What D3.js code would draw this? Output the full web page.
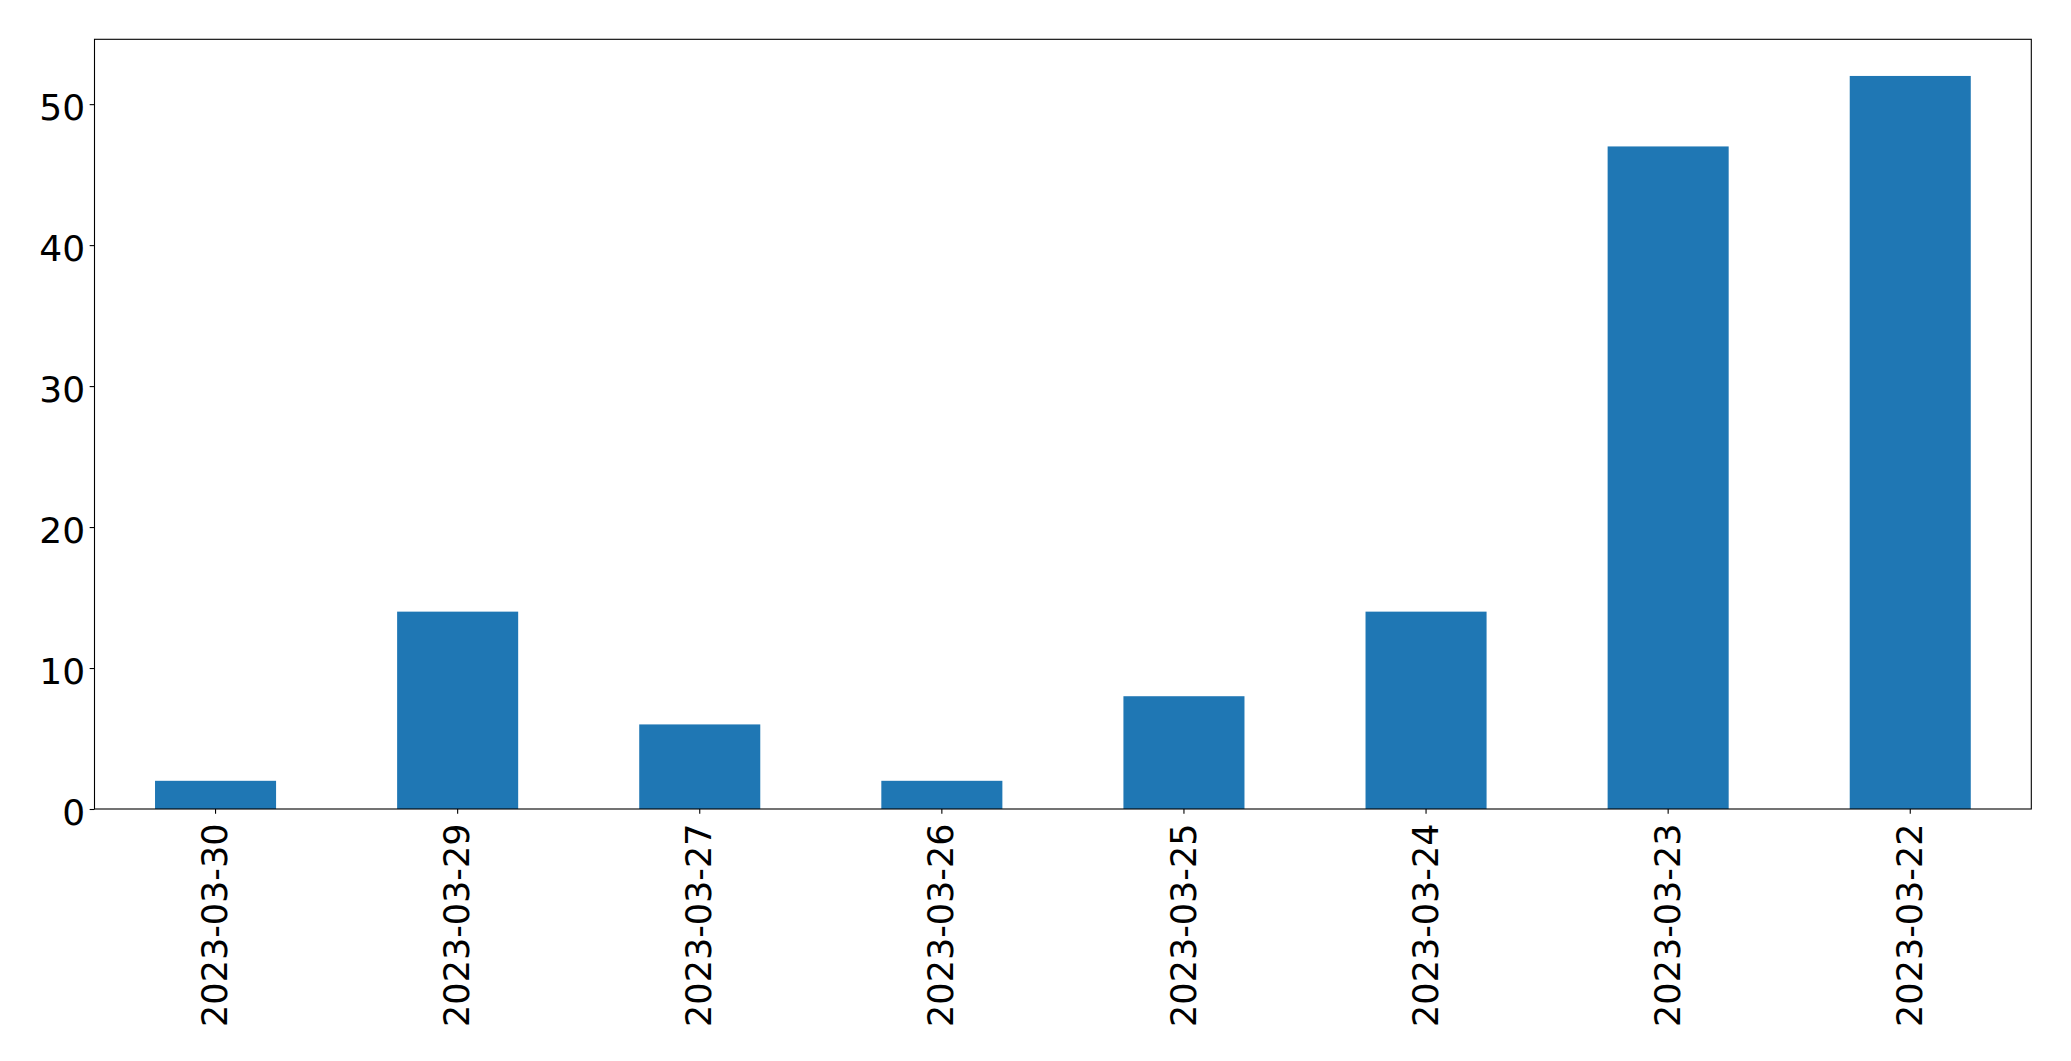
<!DOCTYPE html>
<html>
<head>
<meta charset="utf-8">
<script src="https://cdn.jsdelivr.net/npm/d3@7"></script>
<style>
  html, body { margin: 0; padding: 0; background: #fff; }
  svg { display: block; }
</style>
</head>
<body>
<svg id="chart" width="2071" height="1061"></svg>
<script>
const categories = ["2023-03-30", "2023-03-29", "2023-03-27", "2023-03-26", "2023-03-25", "2023-03-24", "2023-03-23", "2023-03-22"];
const values = [2, 14, 6, 2, 8, 14, 47, 52];
const yTicks = [0, 10, 20, 30, 40, 50];

(function () {
const svg = d3.select("#chart");
const mLeft = 94.5, mRight = 2031.3, mTop = 39.3, mBottom = 809;
const font = "DejaVu Sans, sans-serif";

const x = d3.scaleBand().domain(categories).range([mLeft, mRight]).paddingInner(0.5).paddingOuter(0.25);
const y = d3.scaleLinear().domain([0, d3.max(values) * 1.05]).range([mBottom, mTop]);

svg.append("g").selectAll("rect")
  .data(categories)
  .join("rect")
  .attr("x", d => x(d))
  .attr("width", x.bandwidth())
  .attr("y", (d, i) => y(values[i]))
  .attr("height", (d, i) => y(0) - y(values[i]))
  .attr("fill", "#1f77b4");

// Y axis
const yAxis = svg.append("g")
  .attr("transform", `translate(${mLeft},0)`)
  .call(d3.axisLeft(y).tickValues(yTicks).tickSize(4.86).tickPadding(4.5));
yAxis.select(".domain").remove();
yAxis.selectAll(".tick line").attr("stroke", "#000").attr("stroke-width", 1.1);
yAxis.selectAll(".tick text")
  .attr("font-family", font).attr("font-size", 36).attr("fill", "#000")
  .attr("dy", "0.42em");

// X axis
const xAxis = svg.append("g")
  .attr("transform", `translate(0,${mBottom})`)
  .call(d3.axisBottom(x).tickSize(4.86).tickPadding(0));
xAxis.select(".domain").remove();
xAxis.selectAll(".tick line").attr("stroke", "#000").attr("stroke-width", 1.1);
xAxis.selectAll(".tick text")
  .attr("font-family", font).attr("font-size", 35).attr("fill", "#000")
  .attr("transform", "rotate(-90)")
  .attr("x", -14.5)
  .attr("y", 0)
  .attr("dy", "0.33em")
  .attr("text-anchor", "end");

// Frame
svg.append("rect")
  .attr("x", mLeft).attr("y", mTop)
  .attr("width", mRight - mLeft).attr("height", mBottom - mTop)
  .attr("fill", "none").attr("stroke", "#000").attr("stroke-width", 1.1);
})();
</script>
</body>
</html>
